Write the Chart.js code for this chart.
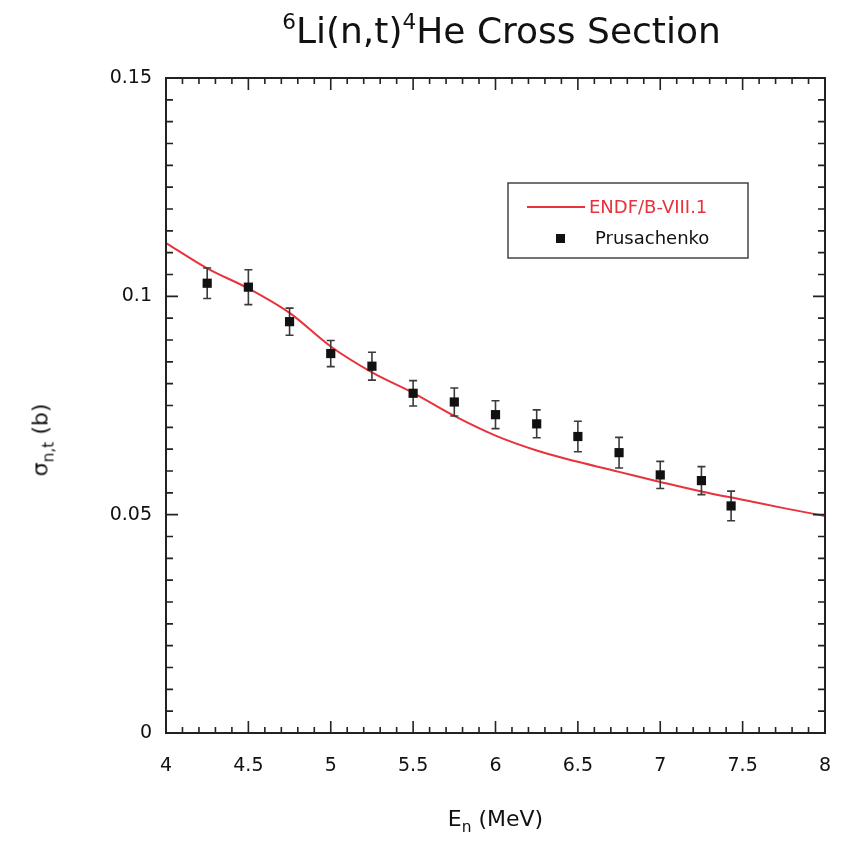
<!DOCTYPE html>
<html>
<head>
<meta charset="utf-8">
<script src="https://cdn.jsdelivr.net/npm/chart.js@4"></script>
<style>
  html, body { margin: 0; padding: 0; background: #fff; }
  #wrap { position: relative; width: 846px; height: 849px; font-family: "DejaVu Sans", sans-serif; color: #111; }
  #chart { position: absolute; left: 0; top: 0; }
  .lbl { position: absolute; white-space: nowrap; }
  #title { left: 166px; width: 671px; top: 10px; text-align: center; font-size: 36px; }
  #title sup { font-size: 60%; vertical-align: 0.65em; line-height: 0; }
  #xtitle { left: 166px; width: 659px; top: 806px; text-align: center; font-size: 22px; }
  #ytitle { left: 40px; top: 440px; font-size: 22px; transform: translate(-50%, -50%) rotate(-90deg); }
  sub { font-size: 70%; vertical-align: -0.4em; line-height: 0; }
</style>
</head>
<body>
<div id="wrap">
  <canvas id="chart" width="846" height="849"></canvas>
  <div class="lbl" id="title"><sup>6</sup>Li(n,t)<sup>4</sup>He Cross Section</div>
  <div class="lbl" id="xtitle">E<sub>n</sub> (MeV)</div>
  <div class="lbl" id="ytitle">σ<sub>n,t</sub> (b)</div>
</div>
<script>
// ── Data ────────────────────────────────────────────────────
const endfE   = [4.0, 4.25, 4.5, 4.75, 5.0, 5.25, 5.5, 5.75, 6.0, 6.25, 6.5, 6.75, 7.0, 7.25, 7.5, 7.75, 8.0];
const endfSig = [0.1122, 0.1064, 0.1018, 0.0962, 0.0885, 0.0826, 0.0779, 0.0726, 0.0681, 0.0647, 0.0621, 0.0598, 0.0575, 0.0553, 0.0534, 0.0515, 0.0497];

const expE   = [4.25, 4.5, 4.75, 5.0, 5.25, 5.5, 5.75, 6.0, 6.25, 6.5, 6.75, 7.0, 7.25, 7.43];
const expSig = [0.1030, 0.1021, 0.0942, 0.0869, 0.0840, 0.0778, 0.0758, 0.0729, 0.0708, 0.0679, 0.0642, 0.0591, 0.0578, 0.0520];
const expErr = [0.0035, 0.0040, 0.0031, 0.0030, 0.0032, 0.0029, 0.0032, 0.0032, 0.0032, 0.0035, 0.0035, 0.0031, 0.0032, 0.0034];

const xTicks = [4, 4.5, 5, 5.5, 6, 6.5, 7, 7.5, 8];
const yTicks = [0, 0.05, 0.1, 0.15];

const RED = '#e8323c';
const FONT = '"DejaVu Sans", sans-serif';

// ── Plugins ─────────────────────────────────────────────────
const errorBars = {
  id: 'errorBars',
  beforeDatasetDraw(chart, args) {
    if (args.index !== 1) return;
    const { ctx, scales: { x, y } } = chart;
    ctx.save();
    ctx.strokeStyle = '#3a3a3a';
    ctx.lineWidth = 1.6;
    expE.forEach((e, i) => {
      const px = x.getPixelForValue(e);
      const top = y.getPixelForValue(expSig[i] + expErr[i]);
      const bot = y.getPixelForValue(expSig[i] - expErr[i]);
      ctx.beginPath();
      ctx.moveTo(px, top); ctx.lineTo(px, bot);
      ctx.moveTo(px - 4, top); ctx.lineTo(px + 4, top);
      ctx.moveTo(px - 4, bot); ctx.lineTo(px + 4, bot);
      ctx.stroke();
    });
    ctx.restore();
  }
};

const frameTicks = {
  id: 'frameTicks',
  afterDatasetsDraw(chart) {
    const { ctx, chartArea: a, scales: { x, y } } = chart;
    ctx.save();
    ctx.strokeStyle = '#222';
    ctx.lineWidth = 2;
    ctx.strokeRect(a.left, a.top, a.right - a.left, a.bottom - a.top);
    ctx.lineWidth = 1.6;
    ctx.beginPath();
    // x ticks every 0.1, major every 0.5
    for (let k = 0; k <= 40; k++) {
      const v = x.min + k * 0.1;
      const px = x.getPixelForValue(v);
      const len = (k % 5 === 0) ? 12 : 6;
      ctx.moveTo(px, a.bottom); ctx.lineTo(px, a.bottom - len);
      ctx.moveTo(px, a.top);    ctx.lineTo(px, a.top + len);
    }
    // y ticks every 0.005, major every 0.05
    for (let k = 0; k <= 30; k++) {
      const v = k * 0.005;
      const py = y.getPixelForValue(v);
      const len = (k % 10 === 0) ? 12 : 7;
      ctx.moveTo(a.left, py);  ctx.lineTo(a.left + len, py);
      ctx.moveTo(a.right, py); ctx.lineTo(a.right - len, py);
    }
    ctx.stroke();
    ctx.restore();
  },
  afterDraw(chart) {
    // legend box
    const { ctx } = chart;
    const ds = chart.data.datasets;
    ctx.save();
    ctx.fillStyle = '#fff';
    ctx.fillRect(508, 183, 240, 75);
    ctx.strokeStyle = '#444';
    ctx.lineWidth = 1.5;
    ctx.strokeRect(508, 183, 240, 75);
    ctx.strokeStyle = RED;
    ctx.lineWidth = 2;
    ctx.beginPath(); ctx.moveTo(527, 207); ctx.lineTo(585, 207); ctx.stroke();
    ctx.fillStyle = '#111';
    ctx.fillRect(556, 234, 9, 9);
    ctx.font = '18px ' + FONT;
    ctx.textBaseline = 'middle';
    ctx.fillStyle = RED;
    ctx.fillText(ds[0].label, 589, 208);
    ctx.fillStyle = '#111';
    ctx.fillText(ds[1].label, 595, 239);
    ctx.restore();
  }
};

// ── Chart ───────────────────────────────────────────────────
new Chart(document.getElementById('chart'), {
  type: 'scatter',
  data: {
    datasets: [
      {
        type: 'line',
        label: 'ENDF/B-VIII.1',
        data: endfE.map((e, i) => ({ x: e, y: endfSig[i] })),
        borderColor: RED,
        borderWidth: 2,
        pointRadius: 0,
        tension: 0.4,
        cubicInterpolationMode: 'monotone',
        fill: false,
        order: 2,
      },
      {
        label: 'Prusachenko',
        data: expE.map((e, i) => ({ x: e, y: expSig[i] })),
        pointStyle: 'rect',
        pointRadius: 6.5,
        backgroundColor: '#111',
        borderColor: '#111',
        borderWidth: 0,
        order: 1,
      },
    ],
  },
  options: {
    responsive: false,
    animation: false,
    layout: { padding: { top: 78, right: 21, left: 0, bottom: 0 } },
    plugins: { legend: { display: false }, tooltip: { enabled: false }, title: { display: false } },
    scales: {
      x: {
        type: 'linear', min: 4, max: 8,
        afterBuildTicks: s => { s.ticks = xTicks.map(v => ({ value: v })); },
        afterFit: s => { s.height = 116; s.paddingLeft = 0; s.paddingRight = 0; },
        ticks: { color: '#111', font: { family: FONT, size: 19 }, padding: 22,
                 callback: v => String(+v.toFixed(2)) },
        grid: { display: false, drawTicks: false },
        border: { display: false },
      },
      y: {
        type: 'linear', min: 0, max: 0.15,
        afterBuildTicks: s => { s.ticks = yTicks.map(v => ({ value: v })); },
        afterFit: s => { s.width = 166; s.paddingTop = 0; s.paddingBottom = 0; },
        ticks: { color: '#111', font: { family: FONT, size: 19 }, padding: 14,
                 callback: v => String(+v.toFixed(3)) },
        grid: { display: false, drawTicks: false },
        border: { display: false },
      },
    },
  },
  plugins: [errorBars, frameTicks],
});
</script>
</body>
</html>
